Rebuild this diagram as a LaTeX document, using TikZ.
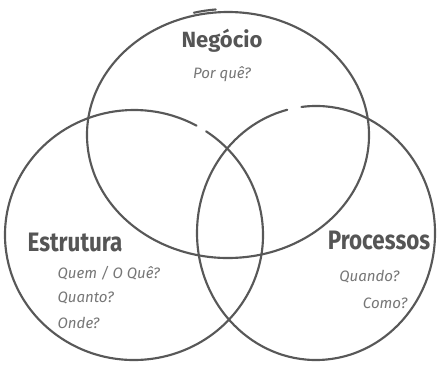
\documentclass[tikz,border=0pt]{standalone}
\usepackage{fontspec}
\setmainfont{Fira Sans}
\newfontfamily\narrowSans{Fira Sans}[FakeStretch=0.84]
\usepackage{tikz}
\usetikzlibrary{positioning}
\definecolor{penGray}{RGB}{88, 88, 88}
\definecolor{titleGray}{RGB}{85, 85, 85}
\definecolor{askGray}{RGB}{118, 118, 118}

\begin{document}
\begin{tikzpicture}[
    x=0.75pt, y=-0.75pt,
    ring/.style={draw=penGray, line width=1.6pt, line cap=round},
    title/.style={font=\narrowSans\fontsize{20}{22}\selectfont\bfseries, text=titleGray, inner sep=1pt},
    ask/.style={font=\fontsize{11.3}{13}\selectfont\itshape, text=askGray, inner sep=1pt},
]
\useasboundingbox (0,0) rectangle (438,366);

% círculos
\coordinate (cNeg) at (228,135);
\coordinate (cEst) at (134,235);
\coordinate (cPro) at (316,233);

\draw[ring] (cNeg) ++(97:141 and -123) arc[start angle=97, end angle=458, x radius=141, y radius=-123];
\draw[ring] (cNeg) ++(104:141 and -126) arc[start angle=104, end angle=95, x radius=141, y radius=-126];
\draw[ring] (cEst) ++(56:129 and -125) arc[start angle=56, end angle=-299, x radius=129, y radius=-125];
\draw[ring] (cPro) ++(97:119 and -127) arc[start angle=97, end angle=-256, x radius=119, y radius=-127];

% textos
\node[title, font=\fontsize{16.5}{18}\selectfont\bfseries] (neg) at (222,41) {Negócio};
\node[ask] (negQ) at (222,74) {Por quê?};

\node[title] (est) at (75,242) {Estrutura};
\node[ask, anchor=west] (estQa) at (56,273) {Quem / O Quê?};
\node[ask, anchor=west] (estQb) at (56,298) {Quanto?};
\node[ask, anchor=west] (estQc) at (56,323) {Onde?};

\node[title] (pro) at (379,240) {Processos};
\node[ask, anchor=east] (proQa) at (401,277) {Quando?};
\node[ask, anchor=east] (proQb) at (409,303) {Como?};

\end{tikzpicture}
\end{document}
